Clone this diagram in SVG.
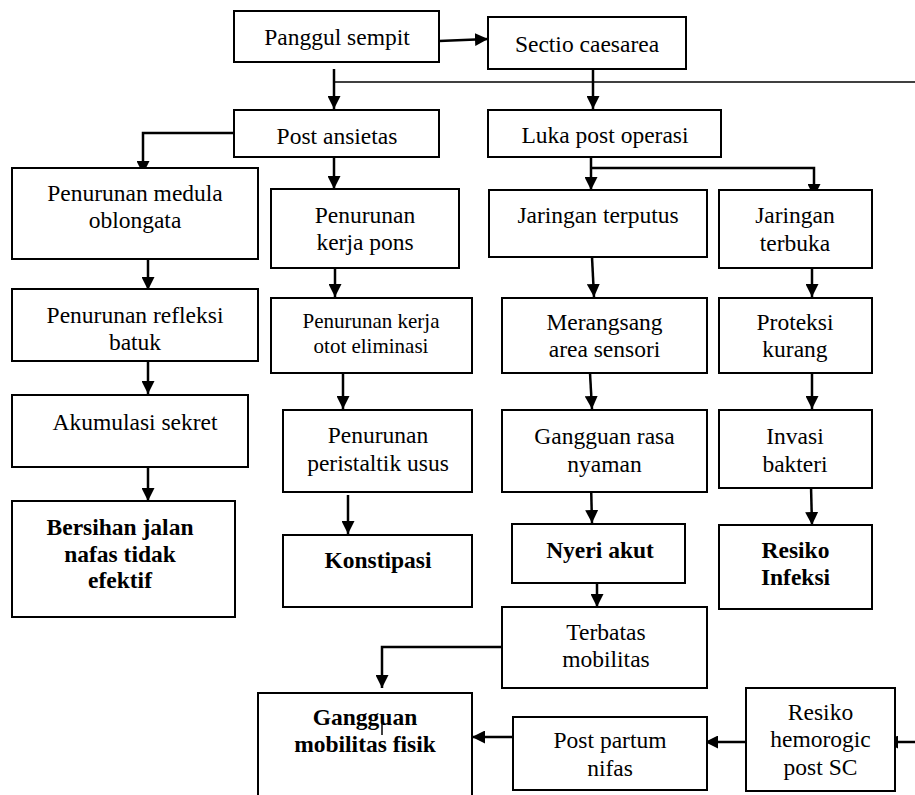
<svg xmlns="http://www.w3.org/2000/svg" width="915" height="795" viewBox="0 0 915 795">
<style>
.box{fill:#fff;stroke:#000;stroke-width:2}
.t{font-family:"Liberation Serif","Times New Roman",serif;font-size:23.5px;fill:#000;text-anchor:middle}
.s{font-size:21px}
.b{font-weight:bold}
.c{fill:none;stroke:#000;stroke-width:2.5}
.thin{fill:none;stroke:#000;stroke-width:1.5}
</style>
<defs>
<marker id="ah" markerUnits="userSpaceOnUse" viewBox="0 0 13 13" refX="13" refY="6.5" markerWidth="13" markerHeight="13" orient="auto">
<path d="M0,0 L13,6.5 L0,13 z" fill="#000"/>
</marker>
</defs>
<rect width="915" height="795" fill="#fff"/>
<g id="connectors">
<line class="c" x1="439" y1="41" x2="488" y2="39" marker-end="url(#ah)"/>
<line class="c" x1="334" y1="69" x2="334" y2="109" marker-end="url(#ah)"/>
<line class="thin" x1="334" y1="82" x2="915" y2="82"/>
<line class="c" x1="593" y1="69" x2="593" y2="109" marker-end="url(#ah)"/>
<polyline class="c" points="236,133 143,133 143,174" marker-end="url(#ah)"/>
<line class="c" x1="334" y1="150" x2="334" y2="189" marker-end="url(#ah)"/>
<line class="c" x1="591" y1="157" x2="591" y2="190" marker-end="url(#ah)"/>
<polyline class="c" points="591,168 814,168 814,197" marker-end="url(#ah)"/>
<line class="c" x1="148" y1="252" x2="148" y2="290" marker-end="url(#ah)"/>
<line class="c" x1="148" y1="361" x2="148" y2="394" marker-end="url(#ah)"/>
<line class="c" x1="148" y1="462" x2="148" y2="501" marker-end="url(#ah)"/>
<line class="c" x1="335" y1="257" x2="335" y2="297" marker-end="url(#ah)"/>
<line class="c" x1="343" y1="368" x2="343" y2="409" marker-end="url(#ah)"/>
<line class="c" x1="348" y1="495" x2="348" y2="534" marker-end="url(#ah)"/>
<line class="c" x1="592" y1="257" x2="594" y2="297" marker-end="url(#ah)"/>
<line class="c" x1="812" y1="268" x2="812" y2="297" marker-end="url(#ah)"/>
<line class="c" x1="590" y1="373" x2="592" y2="409" marker-end="url(#ah)"/>
<line class="c" x1="812" y1="373" x2="812" y2="409" marker-end="url(#ah)"/>
<line class="c" x1="591" y1="483" x2="592" y2="523" marker-end="url(#ah)"/>
<line class="c" x1="811" y1="486" x2="812" y2="525" marker-end="url(#ah)"/>
<line class="c" x1="597" y1="583" x2="597" y2="607" marker-end="url(#ah)"/>
<polyline class="c" points="502,647 382,647 382,688" marker-end="url(#ah)"/>
<line class="c" x1="513" y1="737" x2="472" y2="737" marker-end="url(#ah)"/>
<line class="c" x1="746" y1="742" x2="705" y2="742" marker-end="url(#ah)"/>
<line class="c" x1="915" y1="742" x2="885" y2="742" marker-end="url(#ah)"/>
</g>
<g id="panggul"><rect class="box" x="234" y="11" width="205" height="51"/><text class="t" x="337" y="45">Panggul sempit</text></g>
<g id="sectio"><rect class="box" x="488" y="17" width="198" height="52"/><text class="t" x="587" y="52">Sectio caesarea</text></g>
<g id="ansietas"><rect class="box" x="234" y="110" width="205" height="47"/><text class="t" x="337" y="144">Post ansietas</text></g>
<g id="luka"><rect class="box" x="488" y="110" width="233" height="47"/><text class="t" x="605" y="143">Luka post operasi</text></g>
<g id="medula"><rect class="box" x="12" y="168" width="246" height="91"/><text class="t" x="135" y="201">Penurunan medula</text><text class="t" x="135" y="228">oblongata</text></g>
<g id="pons"><rect class="box" x="271" y="189" width="188" height="79"/><text class="t" x="365" y="223">Penurunan</text><text class="t" x="365" y="250">kerja pons</text></g>
<g id="terputus"><rect class="box" x="489" y="190" width="218" height="67"/><text class="t" x="598" y="223">Jaringan terputus</text></g>
<g id="terbuka"><rect class="box" x="719" y="190" width="153" height="78"/><text class="t" x="795" y="223">Jaringan</text><text class="t" x="795" y="251">terbuka</text></g>
<g id="refleksi"><rect class="box" x="12" y="289" width="246" height="72"/><text class="t" x="135" y="323">Penurunan refleksi</text><text class="t" x="135" y="350">batuk</text></g>
<g id="otot"><rect class="box" x="271" y="298" width="201" height="75"/><text class="t s" x="371" y="328">Penurunan kerja</text><text class="t s" x="371" y="353">otot eliminasi</text></g>
<g id="merangsang"><rect class="box" x="502" y="298" width="205" height="75"/><text class="t" x="604.5" y="330">Merangsang</text><text class="t" x="604.5" y="357">area sensori</text></g>
<g id="proteksi"><rect class="box" x="719" y="298" width="153" height="75"/><text class="t" x="795" y="330">Proteksi</text><text class="t" x="795" y="357">kurang</text></g>
<g id="akumulasi"><rect class="box" x="12" y="395" width="236" height="72"/><text class="t" x="135" y="430">Akumulasi sekret</text></g>
<g id="peristaltik"><rect class="box" x="283" y="410" width="189" height="82"/><text class="t" x="378" y="443">Penurunan</text><text class="t" x="378" y="471">peristaltik usus</text></g>
<g id="gangguan-rasa"><rect class="box" x="502" y="410" width="205" height="82"/><text class="t" x="604.5" y="444">Gangguan rasa</text><text class="t" x="604.5" y="472">nyaman</text></g>
<g id="invasi"><rect class="box" x="719" y="410" width="153" height="78"/><text class="t" x="795" y="444">Invasi</text><text class="t" x="795" y="472">bakteri</text></g>
<g id="bersihan"><rect class="box" x="12" y="501" width="223" height="116"/><text class="t b" x="120" y="535">Bersihan jalan</text><text class="t b" x="120" y="562">nafas tidak</text><text class="t b" x="120" y="588">efektif</text></g>
<g id="konstipasi"><rect class="box" x="283" y="535" width="189" height="72"/><text class="t b" x="378" y="568">Konstipasi</text></g>
<g id="nyeri"><rect class="box" x="512" y="524" width="173" height="59"/><text class="t b" x="600" y="558">Nyeri akut</text></g>
<g id="resiko-infeksi"><rect class="box" x="719" y="525" width="153" height="84"/><text class="t b" x="795.5" y="558">Resiko</text><text class="t b" x="795.5" y="585">Infeksi</text></g>
<g id="terbatas"><rect class="box" x="502" y="607" width="205" height="81"/><text class="t" x="606" y="640">Terbatas</text><text class="t" x="606" y="667">mobilitas</text></g>
<g id="gangguan-mobilitas"><rect class="box" x="258" y="693" width="214" height="120"/><text class="t b" x="365" y="725">Gangguan</text><text class="t b" x="365" y="752">mobilitas fisik</text><line class="thin" x1="382" y1="721" x2="382" y2="735"/></g>
<g id="postpartum"><rect class="box" x="513" y="717" width="194" height="73"/><text class="t" x="610" y="748">Post partum</text><text class="t" x="610" y="776">nifas</text></g>
<g id="hemorogic"><rect class="box" x="746" y="688" width="149" height="103"/><text class="t" x="820.5" y="720">Resiko</text><text class="t" x="820.5" y="747">hemorogic</text><text class="t" x="820.5" y="775">post SC</text></g>
</svg>
